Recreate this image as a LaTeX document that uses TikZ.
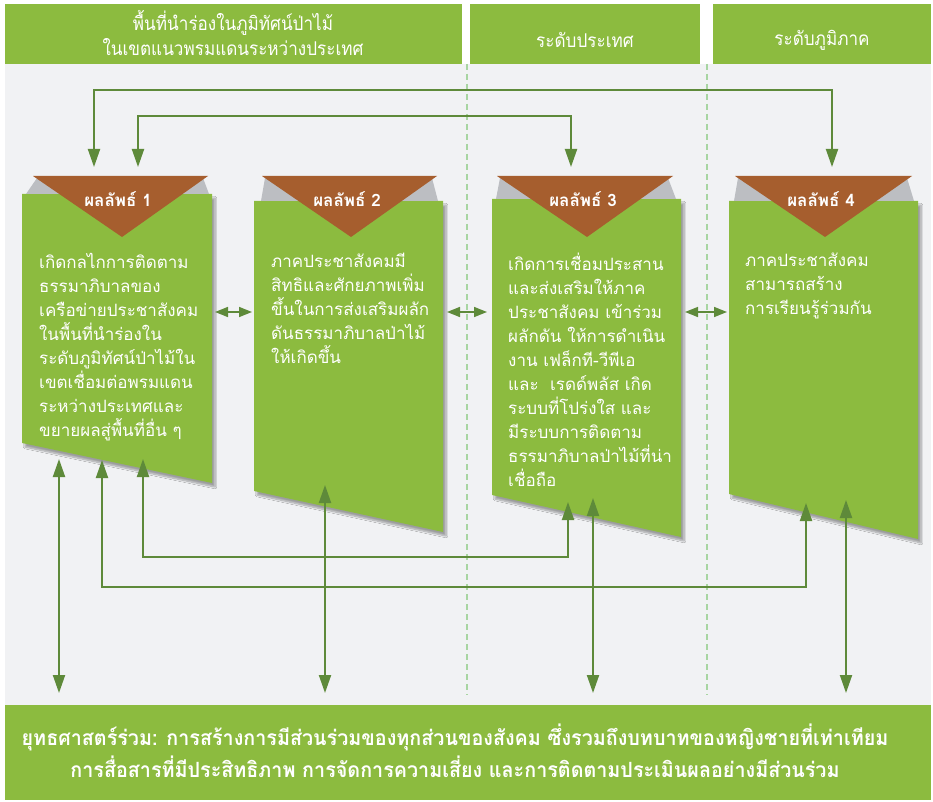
\documentclass[tikz,border=0pt]{standalone}
\usepackage{fontspec}
\newfontfamily\thaifont[Script=Thai]{Loma}
\newfontfamily\thainarrow[Script=Thai,FakeStretch=0.9]{Loma}
\newfontfamily\thaibase[Script=Thai,FakeStretch=0.94]{Loma}
\usetikzlibrary{arrows.meta}
\usetikzlibrary{shadows.blur}

\definecolor{leaf}{HTML}{8CBB3F}
\definecolor{moss}{HTML}{5E8A3A}
\definecolor{rust}{HTML}{A65E2E}
\definecolor{paper}{HTML}{F1F2F4}
\definecolor{guide}{HTML}{A8D5A2}
\definecolor{fold}{HTML}{BCBEC2}

\begin{document}
\begin{tikzpicture} [
    x=1pt, y=-1pt,
    >={Triangle[length=18pt,width=12pt]},
    bar/.style = {fill=leaf},
    card/.style = {fill=leaf, blur shadow={shadow xshift=3pt, shadow yshift=-4pt, shadow blur steps=8, shadow opacity=35}},
    tri/.style = {fill=rust},
    flap/.style = {fill=fold},
    divider/.style = {guide, line width=1.2pt, dash pattern=on 6pt off 4pt},
    headtext/.style = {text=white, align=center, font=\thainarrow\fontsize{19}{25}\selectfont},
    tag/.style = {text=white, font=\thaifont\bfseries\fontsize{17}{18}\selectfont},
    cardtext/.style = {text=white, align=left, anchor=north west, inner sep=0pt, font=\thaifont\fontsize{17}{24}\selectfont},
    basetext/.style = {text=white, align=center, font=\thaibase\bfseries\fontsize{21}{32}\selectfont},
    link/.style = {draw=moss, line width=2pt},
    shortlink/.style = {draw=moss, line width=1.5pt, <->, >={Triangle[length=13pt,width=10pt]}}
    ]
    \useasboundingbox (0,0) rectangle (933,802);

    % backdrop and column heads
    \fill[paper] (5,64) rectangle (931,705);
    \fill[bar] (5,4) rectangle (462,64);
    \fill[bar] (470,4) rectangle (700,64);
    \fill[bar] (713,4) rectangle (931,64);
    \fill[bar] (5,705) rectangle (931,800);
    \draw[divider] (467,64) -- (467,695);
    \draw[divider] (707,64) -- (707,695);

    \node[headtext] (head1) at (233,33) {พื้นที่นำร่องในภูมิทัศน์ป่าไม้\\ในเขตแนวพรมแดนระหว่างประเทศ};
    \node[headtext] (head2) at (585,40) {ระดับประเทศ};
    \node[headtext] (head3) at (822,40) {ระดับภูมิภาค};

    % result cards
    \fill[card] (22,194) -- (212,194) -- (212,483) -- (22,443) -- cycle;
    \fill[card] (254,201) -- (443,201) -- (443,532) -- (254,491) -- cycle;
    \fill[card] (492,199) -- (681,199) -- (681,537) -- (492,495) -- cycle;
    \fill[card] (729,201) -- (918,201) -- (918,539) -- (729,494) -- cycle;

    \fill[flap] (37,178) -- (203,178) -- (209,194) -- (26,194) -- cycle;
    \fill[flap] (265,178) -- (432,178) -- (438,201) -- (261,201) -- cycle;
    \fill[flap] (500,178) -- (668,178) -- (676,199) -- (496,199) -- cycle;
    \fill[flap] (738,178) -- (907,178) -- (914,201) -- (734,201) -- cycle;

    \fill[tri] (33,176) -- (208,176) -- (122,237) -- cycle;
    \fill[tri] (262,176) -- (437,176) -- (351,237) -- cycle;
    \fill[tri] (497,176) -- (673,176) -- (587,237) -- cycle;
    \fill[tri] (735,176) -- (912,176) -- (825,237) -- cycle;

    \node[tag] (tag1) at (118,199) {ผลลัพธ์ 1};
    \node[tag] (tag2) at (347,199) {ผลลัพธ์ 2};
    \node[tag] (tag3) at (583,199) {ผลลัพธ์ 3};
    \node[tag] (tag4) at (821,199) {ผลลัพธ์ 4};

    \node[cardtext] (res1) at (39,253) {เกิดกลไกการติดตาม\\ธรรมาภิบาลของ\\เครือข่ายประชาสังคม\\ในพื้นที่นำร่องใน\\ระดับภูมิทัศน์ป่าไม้ใน\\เขตเชื่อมต่อพรมแดน\\ระหว่างประเทศและ\\ขยายผลสู่พื้นที่อื่น ๆ};
    \node[cardtext] (res2) at (271,253) {ภาคประชาสังคมมี\\สิทธิและศักยภาพเพิ่ม\\ขึ้นในการส่งเสริมผลัก\\ดันธรรมาภิบาลป่าไม้\\ให้เกิดขึ้น};
    \node[cardtext] (res3) at (508,253) {เกิดการเชื่อมประสาน\\และส่งเสริมให้ภาค\\ประชาสังคม เข้าร่วม\\ผลักดัน ให้การดำเนิน\\งาน เฟล็กที-วีพีเอ\\และ~~เรดด์พลัส เกิด\\ระบบที่โปร่งใส และ\\มีระบบการติดตาม\\ธรรมาภิบาลป่าไม้ที่น่า\\เชื่อถือ};
    \node[cardtext] (res4) at (745,253) {ภาคประชาสังคม\\สามารถสร้าง\\การเรียนรู้ร่วมกัน};

    \node[basetext] (plan) at (455,751) {ยุทธศาสตร์ร่วม: การสร้างการมีส่วนร่วมของทุกส่วนของสังคม ซึ่งรวมถึงบทบาทของหญิงชายที่เท่าเทียม\\การสื่อสารที่มีประสิทธิภาพ การจัดการความเสี่ยง และการติดตามประเมินผลอย่างมีส่วนร่วม};

    % arrow ends
    \coordinate (top1a) at (94,167);
    \coordinate (top1b) at (138,167);
    \coordinate (top3) at (571,167);
    \coordinate (top4) at (832,167);
    \coordinate (railA) at (0,90);
    \coordinate (railB) at (0,116);
    \coordinate (foot1a) at (59,459);
    \coordinate (foot1b) at (102,460);
    \coordinate (foot1c) at (143,459);
    \coordinate (foot2) at (325,485);
    \coordinate (foot3a) at (568,502);
    \coordinate (foot3b) at (593,498);
    \coordinate (foot4a) at (806,503);
    \coordinate (foot4b) at (846,500);
    \coordinate (railC) at (0,557);
    \coordinate (railD) at (0,587);
    \coordinate (ground) at (0,693);

    \draw[link, <->] (top1a) -- (top1a |- railA) -| (top4);
    \draw[link, <->] (top1b) -- (top1b |- railB) -| (top3);
    \draw[link, <->] (foot1c) -- (foot1c |- railC) -| (foot3a);
    \draw[link, <->] (foot1b) -- (foot1b |- railD) -| (foot4a);
    \draw[link, <->] (foot1a) -- (foot1a |- ground);
    \draw[link, <->] (foot2) -- (foot2 |- ground);
    \draw[link, <->] (foot3b) -- (foot3b |- ground);
    \draw[link, <->] (foot4b) -- (foot4b |- ground);

    \coordinate (side1) at (215,312);
    \coordinate (side2) at (252,312);
    \coordinate (side3) at (447,312);
    \coordinate (side4) at (487,312);
    \coordinate (side5) at (685,312);
    \coordinate (side6) at (727,312);
    \draw[shortlink] (side1) -- (side2);
    \draw[shortlink] (side3) -- (side4);
    \draw[shortlink] (side5) -- (side6);
\end{tikzpicture}
\end{document}
